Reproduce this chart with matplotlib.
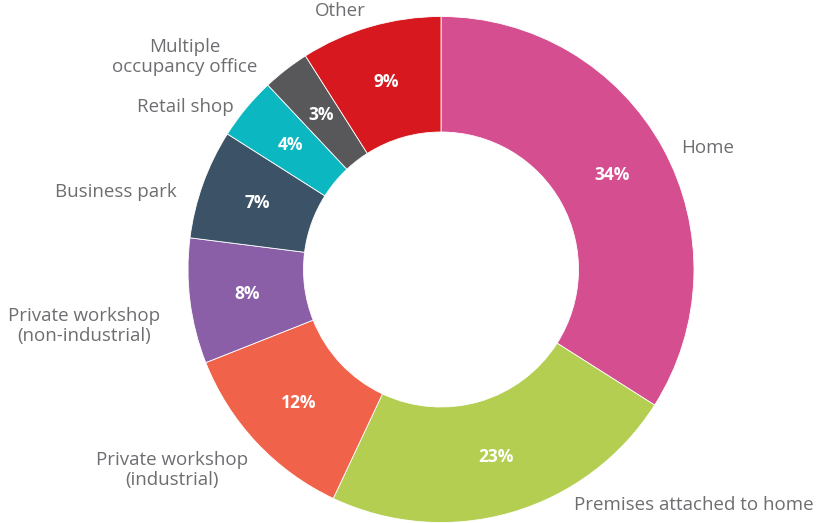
import matplotlib.pyplot as plt
import numpy as np

# share of respondents by type of premises
categories = ["Home", "Premises attached to home", "Private workshop\n(industrial)",
              "Private workshop\n(non-industrial)", "Business park", "Retail shop",
              "Multiple\noccupancy office", "Other"]
shares = [34, 23, 12, 8, 7, 4, 3, 9]
colors = ["#D54E8F", "#B3CE50", "#F0634A", "#8A5FA7", "#3C5266", "#0BB8C1",
          "#58585A", "#D7191F"]

# where each category name sits (pixels from top-left, ha)
label_pos = {
    "Home": (681, 148, "left"),
    "Premises attached to home": (574, 505, "left"),
    "Private workshop\n(industrial)": (172, 470, "center"),
    "Private workshop\n(non-industrial)": (84, 326, "center"),
    "Business park": (116, 192, "center"),
    "Retail shop": (185, 107, "center"),
    "Multiple\noccupancy office": (185, 57, "center"),
    "Other": (340, 11, "center"),
}

W, H = 822, 523
cx, cy = 441, H - 269.5
R_OUT, R_IN = 253, 137.5

fig = plt.figure(figsize=(W / 100, H / 100), dpi=100)
ax = fig.add_axes([0, 0, 1, 1])

wedges, _ = ax.pie(shares, colors=colors, startangle=90, counterclock=False,
                   center=(cx, cy), radius=R_OUT,
                   wedgeprops=dict(width=R_OUT - R_IN, edgecolor="white", linewidth=0.6))

ax.set_xlim(0, W)
ax.set_ylim(0, H)
ax.set_aspect("equal")
ax.axis("off")

# percentage labels in the middle of the ring
r_mid = (R_OUT + R_IN) / 2
for w, s in zip(wedges, shares):
    ang = np.deg2rad((w.theta1 + w.theta2) / 2)
    x = cx + r_mid * np.cos(ang)
    y = cy + r_mid * np.sin(ang)
    ax.text(x, y, f"{s}%", color="white", fontsize=12.5, fontweight="bold",
            family="Open Sans", ha="center", va="center")

for name in categories:
    x, y, ha = label_pos[name]
    ax.text(x, H - y, name, color="#6D6E71", fontsize=13.5, family="Open Sans",
            ha=ha, va="center", multialignment="center", linespacing=1.08)

fig.savefig("out.png", dpi=100)
